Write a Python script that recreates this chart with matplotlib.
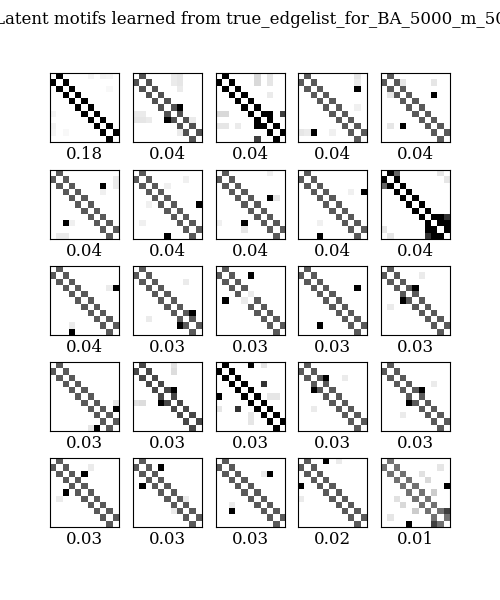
import numpy as np
import matplotlib
matplotlib.use("Agg")
import matplotlib.pyplot as plt

plt.rcParams['font.family'] = ['DejaVu Serif']

K = 11
graph_name = "true_edgelist_for_BA_5000_m_50"

scores = [0.18, 0.04, 0.04, 0.04, 0.04,
          0.04, 0.04, 0.04, 0.04, 0.04,
          0.04, 0.03, 0.03, 0.03, 0.03,
          0.03, 0.03, 0.03, 0.03, 0.03,
          0.03, 0.03, 0.03, 0.02, 0.01]

# value of the path (sub/super diagonal) entries in each motif
path_levels = [1.0, 0.68, 1.0, 0.65, 0.65,
               0.65, 0.65, 0.65, 0.65, 1.0,
               0.65, 0.65, 0.65, 0.65, 0.65,
               0.65, 0.65, 1.0, 0.65, 0.65,
               0.65, 0.65, 0.65, 0.65, 0.55]

# strong off-path entries (row, col, value); mirrored
strong_cells = [
    [],
    [(5, 7, 1.0)],
    [(6, 8, 1.0), (6, 10, 0.75)],
    [(2, 9, 1.0)],
    [(3, 8, 1.0)],
    [(2, 8, 1.0)],
    [(5, 10, 1.0)],
    [(4, 8, 1.0)],
    [(3, 10, 1.0)],
    [(7, 9, 1.0), (8, 10, 1.0), (7, 10, 0.8), (0, 2, 0.6)],
    [(3, 10, 1.0)],
    [(7, 9, 1.0)],
    [(1, 5, 1.0)],
    [(3, 9, 1.0)],
    [(3, 5, 1.0)],
    [(7, 10, 1.0)],
    [(4, 6, 0.9)],
    [(0, 5, 1.0), (3, 7, 0.8)],
    [(2, 4, 1.0)],
    [(4, 6, 1.0)],
    [(2, 5, 1.0)],
    [(1, 4, 1.0)],
    [(2, 8, 1.0)],
    [(0, 4, 1.0)],
    [(4, 10, 1.0), (8, 10, 0.75)],
]

# faint background entries (row, col, value); mirrored
faint_cells = [
    [(0, 6, 0.04), (0, 8, 0.05), (0, 9, 0.04), (2, 9, 0.03)],
    [(0, 7, 0.1), (1, 7, 0.1), (2, 7, 0.08), (6, 0, 0.08), (6, 1, 0.08), (9, 7, 0.08)],
    [(6, 0, 0.15), (6, 1, 0.15), (0, 8, 0.1), (1, 8, 0.1), (3, 8, 0.08)],
    [(0, 9, 0.1), (1, 9, 0.08), (9, 1, 0.08), (5, 9, 0.06)],
    [(1, 8, 0.08), (3, 1, 0.1), (8, 1, 0.1)],
    [(10, 1, 0.08), (10, 2, 0.08), (3, 8, 0.06)],
    [(8, 1, 0.06), (5, 2, 0.06)],
    [(9, 4, 0.1), (0, 8, 0.06)],
    [(8, 3, 0.06)],
    [(9, 0, 0.1), (10, 1, 0.1)],
    [(9, 3, 0.08)],
    [(8, 2, 0.08)],
    [(5, 4, 0.08)],
    [(9, 3, 0.08)],
    [(6, 1, 0.08)],
    [(10, 6, 0.1)],
    [(6, 0, 0.12), (6, 1, 0.12), (0, 6, 0.1)],
    [(5, 8, 0.1), (5, 9, 0.1), (0, 7, 0.1)],
    [(7, 2, 0.08)],
    [(8, 3, 0.08)],
    [(6, 1, 0.08)],
    [(8, 6, 0.08)],
    [(7, 2, 0.08)],
    [(6, 0, 0.08)],
    [(1, 9, 0.15), (2, 6, 0.12), (5, 8, 0.2), (7, 3, 0.15), (9, 1, 0.1)],
]

def motif(n):
    M = np.zeros((K, K))
    for i in range(K - 1):
        M[i, i + 1] = M[i + 1, i] = path_levels[n]
    for (i, j, v) in faint_cells[n] + strong_cells[n]:
        M[i, j] = M[j, i] = v
    return M

fig = plt.figure(figsize=(5, 6), dpi=100)
lefts = [50, 133, 216, 298, 381]
tops = [73, 170, 266, 362, 458]
size = 69
for n in range(25):
    r, c = divmod(n, 5)
    ax = fig.add_axes([lefts[c] / 500, 1 - (tops[r] + size) / 600, size / 500, size / 600])
    ax.imshow(motif(n), cmap='gray_r', interpolation='nearest')
    ax.set_xticks([])
    ax.set_yticks([])
    ax.set_xlabel('%1.2f' % scores[n], fontsize=12, labelpad=3)

fig.text(0.5, 1 - 20 / 600, "Latent motifs learned from " + graph_name,
         fontsize=12, ha='center', va='center')
fig.savefig("out.png", dpi=100)
